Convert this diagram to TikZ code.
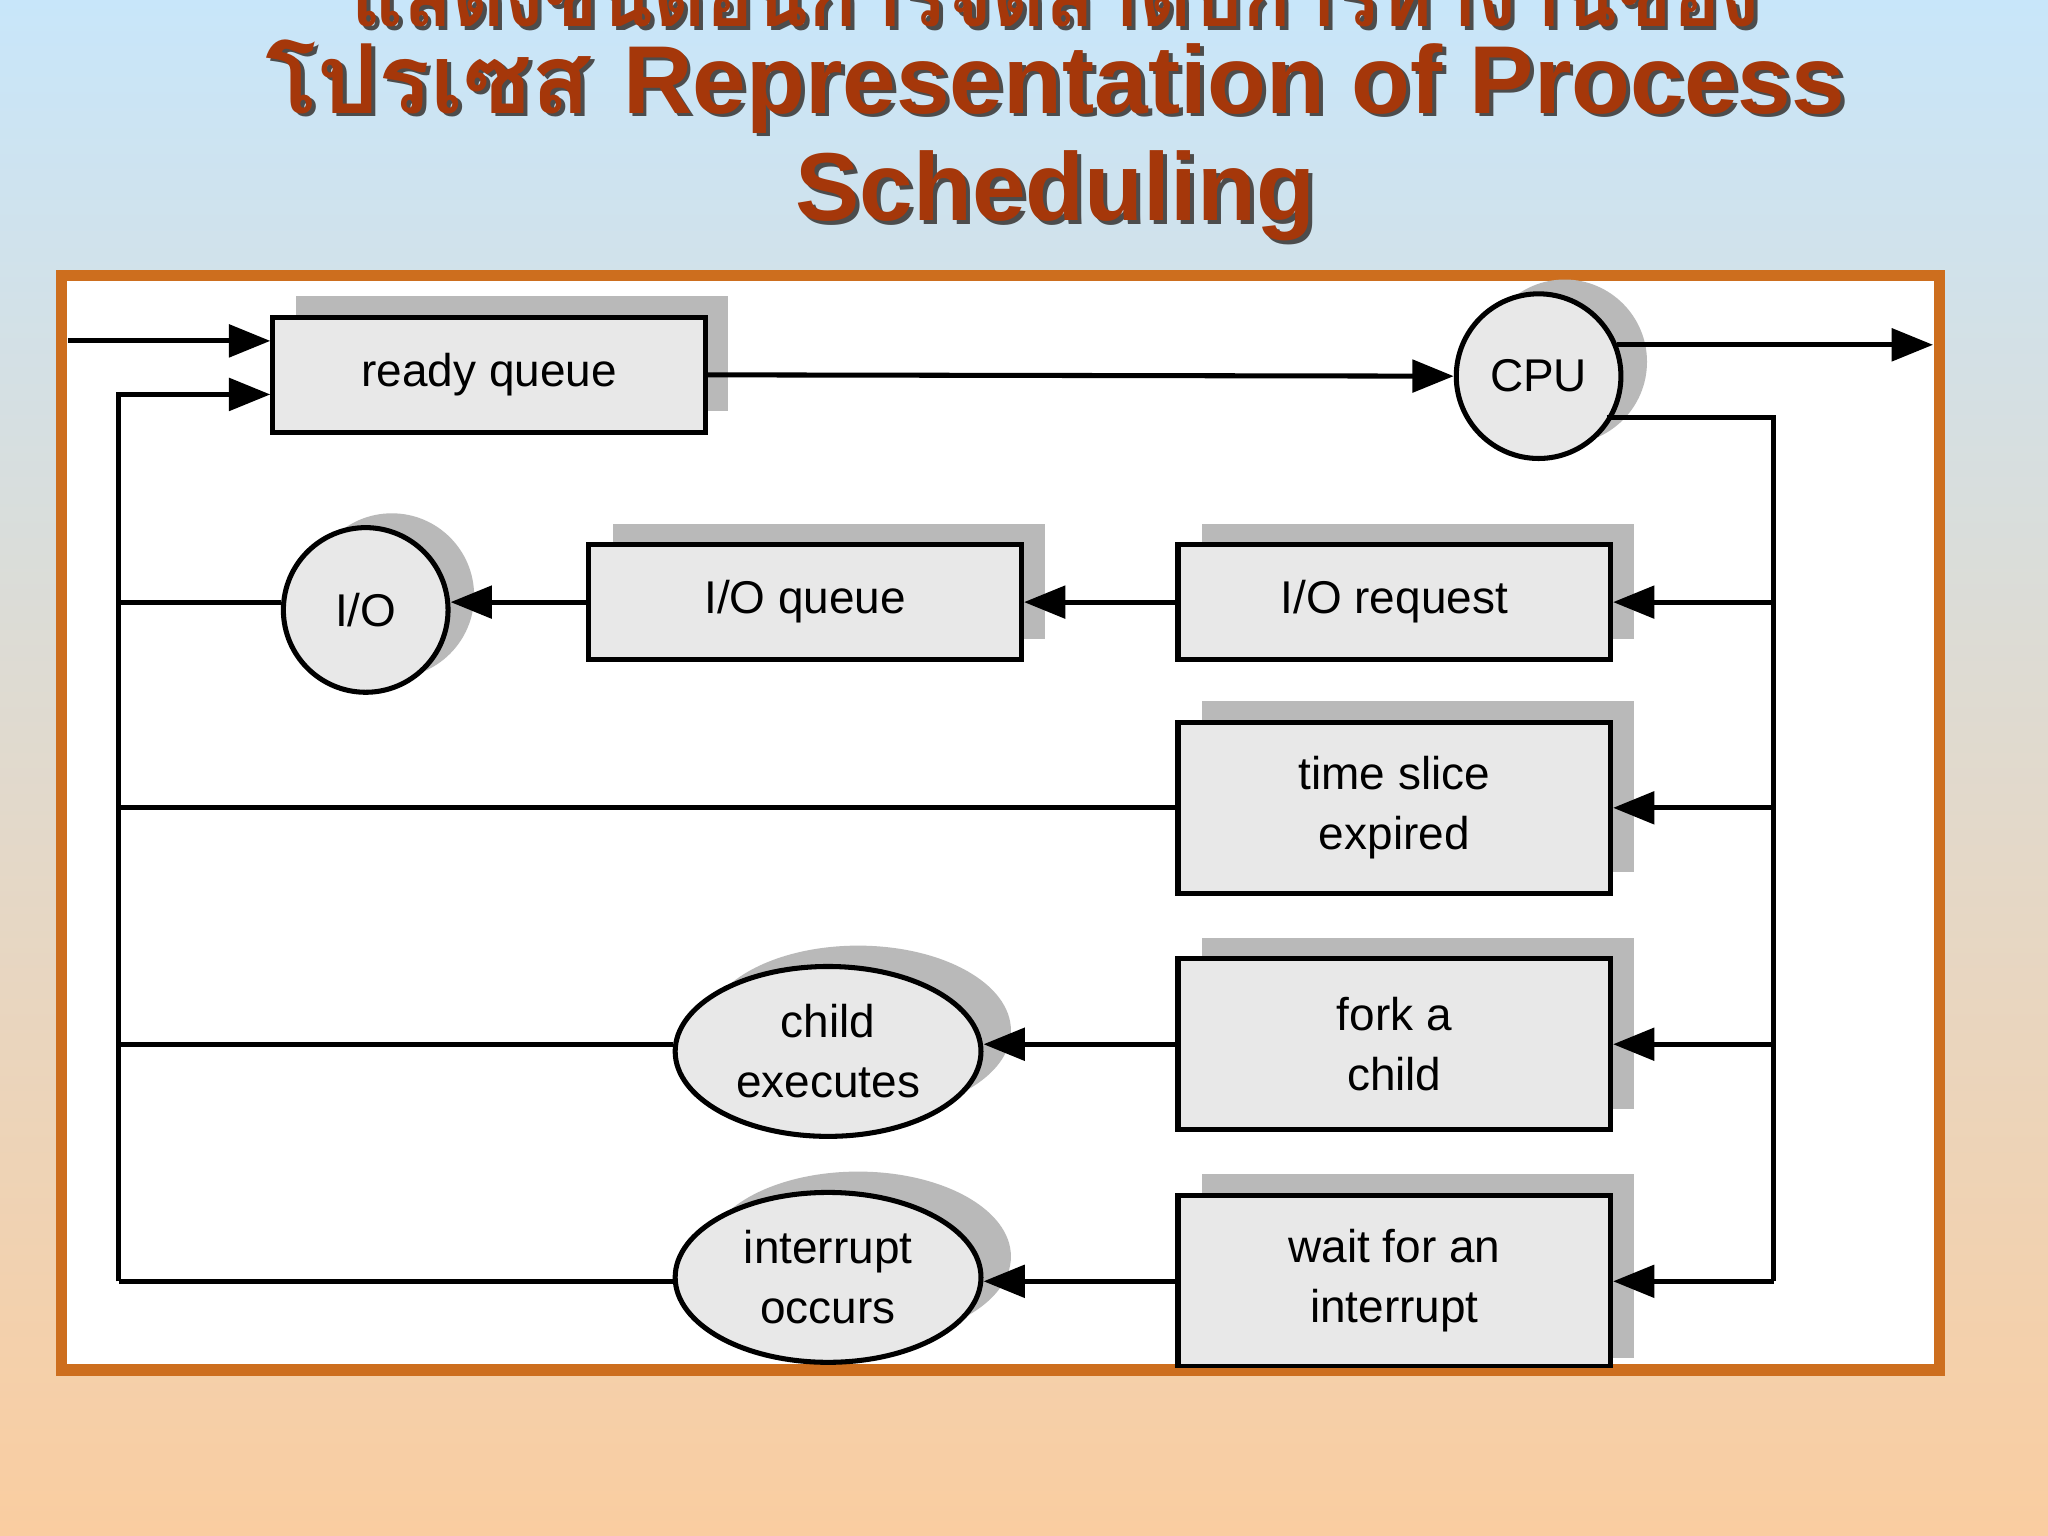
\documentclass[tikz,border=0pt]{standalone}
\usepackage{fontspec}
\setmainfont{Liberation Sans}
\newfontfamily\thaifont[Script=Thai]{Loma}
\usetikzlibrary{arrows.meta,shapes.geometric}
\definecolor{bgtop}{RGB}{200,230,250}
\definecolor{bgbot}{RGB}{250,205,160}
\definecolor{frame}{RGB}{205,110,30}
\definecolor{ttl}{RGB}{165,55,10}
\definecolor{boxfill}{RGB}{232,232,232}
\tikzset{
  bx/.style={draw=black,line width=1.1pt,fill=boxfill,minimum width=3.31cm,align=center,font=\fontsize{10}{13}\selectfont,inner sep=0pt},
  el/.style={ellipse,draw=black,line width=1.1pt,fill=boxfill,minimum width=2.34cm,minimum height=1.3cm,align=center,font=\fontsize{10}{13}\selectfont,inner sep=0pt},
  ci/.style={circle,draw=black,line width=1.1pt,fill=boxfill,minimum size=1.26cm,font=\fontsize{10}{13}\selectfont,inner sep=0pt},
  sh/.style={fill=gray!55,draw=none},
  ln/.style={line width=1.1pt},
  ar/.style={ln,-{Triangle[length=9pt,width=7pt]}},
  tt/.style={font=\fontsize{21}{25}\selectfont\bfseries,text=ttl,align=center}
}
\begin{document}
\begin{tikzpicture}[x=0.01cm,y=-0.01cm]
\useasboundingbox (0,0) rectangle (1568,1176);
\clip (0,0) rectangle (1568,1176);
\shade[top color=bgtop,bottom color=bgbot] (0,0) rectangle (1568,1176);
% title
\foreach \dx/\c in {3/black!70,0/ttl}{
  \node[tt,text=\c,font=\fontsize{17.5}{20}\selectfont\bfseries] (t1\dx) at (808+\dx,-12+\dx) {\thaifont แสดงขั้นตอนการจัดลำดับการทำงานของ};
  \node[tt,text=\c] (t2\dx) at (808+\dx,66+\dx) {\thaifont โปรเซส\ \rmfamily Representation of Process};
  \node[tt,text=\c] (t3\dx) at (808+\dx,150+\dx) {Scheduling};
}
\draw[frame,line width=0.9mm,fill=white] (47,211) rectangle (1485,1049);
\begin{scope}
\clip (49,213) rectangle (1483,1047);
% shadows
\fill[sh] (227,227) rectangle (557,315);
\fill[sh] (469,401) rectangle (800,489);
\fill[sh] (920,401) rectangle (1251,489);
\fill[sh] (920,537) rectangle (1251,668);
\fill[sh] (920,718) rectangle (1251,849);
\fill[sh] (920,899) rectangle (1251,1040);
\fill[sh] (1198,277) circle (63);
\fill[sh] (300,456) circle (63);
\fill[sh] (657,789) ellipse (117 and 65);
\fill[sh] (657,962) ellipse (117 and 65);
% nodes
\node[bx,minimum height=0.88cm] (rq) at (374.5,287) {ready queue};
\node[ci] (cpu) at (1178,288) {CPU};
\node[ci] (io) at (280,467) {I/O};
\node[bx,minimum height=0.88cm] (ioq) at (616.5,461) {I/O queue};
\node[bx,minimum height=0.88cm] (ior) at (1067.5,461) {I/O request};
\node[bx,minimum height=1.31cm] (ts) at (1067.5,618.5) {time slice\\expired};
\node[bx,minimum height=1.31cm] (fk) at (1067.5,799.5) {fork a\\child};
\node[bx,minimum height=1.31cm] (wi) at (1067.5,980.5) {wait for an\\interrupt};
\node[el] (ce) at (634,805) {child\\executes};
\node[el] (io2) at (634,978) {interrupt\\occurs};
% connectors
\coordinate (in) at (52,261);
\coordinate (out) at (1480,264);
\coordinate (lt) at (91,302);
\coordinate (lb) at (91,981);
\coordinate (co) at (1230,320);
\coordinate (rt) at (1358,320);
\coordinate (rb) at (1358,981);
\draw[ar] (in) -- (rq.west |- in);
\draw[ar] (lb) -- (lt) -- (rq.west |- lt);
\draw[ar] (rq.east) -- (cpu.west);
\draw[ar] (cpu.east |- out) ++(-5,0) -- (out);
\draw[ln] (co) -- (rt) -- (rb);
\draw[ar] (rt |- ior) -- (ior.east);
\draw[ar] (rt |- ts) -- (ts.east);
\draw[ar] (rt |- fk) -- (fk.east);
\draw[ar] (rb) -- (wi.east |- rb);
\draw[ar] (ior.west) -- (ioq.east);
\draw[ar] (ioq.west) -- (io.east |- ioq);
\draw[ln] (io.west |- ioq) -- (lt |- ioq);
\draw[ln] (ts.west) -- (lt |- ts);
\draw[ar] (fk.west) -- (ce.east |- fk);
\draw[ln] (ce.west |- fk) -- (lt |- fk);
\draw[ar] (wi.west |- rb) -- (io2.east |- rb);
\draw[ln] (io2.west |- rb) -- (lb);
\end{scope}
\end{tikzpicture}
\end{document}
